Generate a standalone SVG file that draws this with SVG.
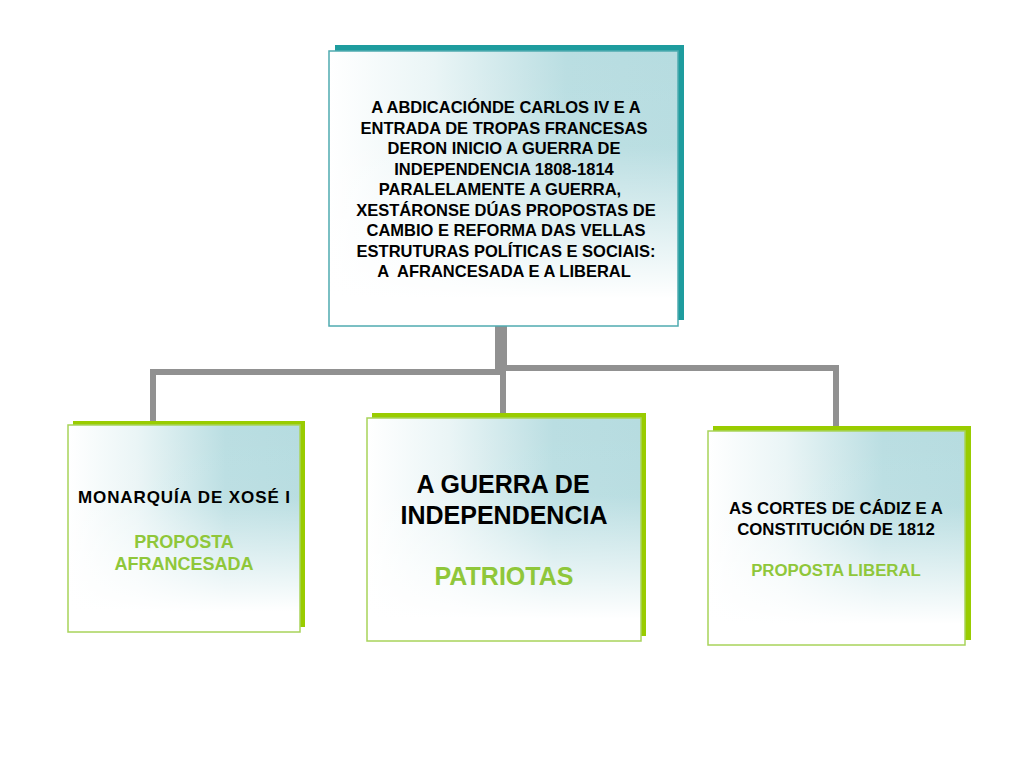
<svg xmlns="http://www.w3.org/2000/svg" width="1024" height="768" viewBox="0 0 1024 768">
<defs>
<linearGradient id="gh" x1="0" y1="0" x2="1" y2="0">
<stop offset="0" stop-color="#ffffff"/>
<stop offset="0.3" stop-color="#eaf5f6"/>
<stop offset="0.68" stop-color="#badee2"/>
<stop offset="1" stop-color="#b6dce0"/>
</linearGradient>
<linearGradient id="gv" x1="0" y1="0" x2="0" y2="1">
<stop offset="0" stop-color="#ffffff" stop-opacity="0"/>
<stop offset="0.35" stop-color="#ffffff" stop-opacity="0.05"/>
<stop offset="0.9" stop-color="#ffffff" stop-opacity="1"/>
<stop offset="1" stop-color="#ffffff" stop-opacity="1"/>
</linearGradient>
<style>
.bg{fill:url(#gh)}
.ov{fill:url(#gv)}
.tsh{fill:#1e9c9e}
.tbd{fill:none;stroke:#4fabb0;stroke-width:1.5}
.gsh{fill:#99cc00}
.gbd{fill:none;stroke:#a8d35a;stroke-width:1.5}
.con{fill:none;stroke:#919191;stroke-width:6;stroke-linejoin:miter}
text{font-family:"Liberation Sans",Arial,sans-serif;font-weight:bold;text-anchor:middle}
.blk{fill:#000000}
.grn{fill:#8fc73a}
</style>
</defs>
<rect width="1024" height="768" fill="#ffffff"/>
<g id="connectors">
<path class="con" d="M498,326 V372 H153 V423"/>
<path class="con" d="M504,326 V368 H836 V428"/>
<path class="con" d="M503,326 V415"/>
</g>
<g id="top">
<rect class="tsh" x="335" y="45" width="349" height="275"/>
<rect class="bg" x="329" y="51" width="349" height="275"/>
<rect class="ov" x="329" y="51" width="349" height="275"/>
<rect class="tbd" x="329" y="51" width="349" height="275"/>
<g font-size="16.5" class="blk">
<text x="506" y="113"> A ABDICACIÓNDE CARLOS IV E A</text>
<text x="504" y="133.5">ENTRADA DE TROPAS FRANCESAS</text>
<text x="504" y="154">DERON INICIO A GUERRA DE</text>
<text x="504" y="174.5">INDEPENDENCIA 1808-1814</text>
<text x="500" y="195">PARALELAMENTE A GUERRA,</text>
<text x="506" y="215.5">XESTÁRONSE DÚAS PROPOSTAS DE</text>
<text x="506" y="236">CAMBIO E REFORMA DAS VELLAS</text>
<text x="506" y="256.5">ESTRUTURAS POLÍTICAS E SOCIAIS:</text>
<text x="504" y="277" xml:space="preserve">A  AFRANCESADA E A LIBERAL</text>
</g>
</g>
<g id="left">
<rect class="gsh" x="73" y="421" width="232" height="206"/>
<rect class="bg" x="68" y="425" width="232" height="207"/>
<rect class="ov" x="68" y="425" width="232" height="207"/>
<rect class="gbd" x="68" y="425" width="232" height="207"/>
<text x="184" y="503" font-size="17" class="blk" textLength="212" lengthAdjust="spacing">MONARQUÍA DE XOSÉ I</text>
<text x="184" y="547.5" font-size="18" class="grn">PROPOSTA</text>
<text x="184" y="570" font-size="18" class="grn">AFRANCESADA</text>
</g>
<g id="middle">
<rect class="gsh" x="372" y="413" width="274" height="223"/>
<rect class="bg" x="367" y="418" width="274" height="223"/>
<rect class="ov" x="367" y="418" width="274" height="223"/>
<rect class="gbd" x="367" y="418" width="274" height="223"/>
<text x="503" y="493" font-size="25" class="blk">A GUERRA DE</text>
<text x="504" y="524" font-size="25" class="blk">INDEPENDENCIA</text>
<text x="504" y="585" font-size="25" class="grn">PATRIOTAS</text>
</g>
<g id="right">
<rect class="gsh" x="713" y="426" width="258" height="214"/>
<rect class="bg" x="708" y="431" width="257" height="214"/>
<rect class="ov" x="708" y="431" width="257" height="214"/>
<rect class="gbd" x="708" y="431" width="257" height="214"/>
<text x="836" y="514" font-size="16.8" class="blk">AS CORTES DE CÁDIZ E A</text>
<text x="836" y="534.5" font-size="16.8" class="blk">CONSTITUCIÓN DE 1812</text>
<text x="836" y="575.5" font-size="16.8" class="grn">PROPOSTA LIBERAL</text>
</g>
</svg>
